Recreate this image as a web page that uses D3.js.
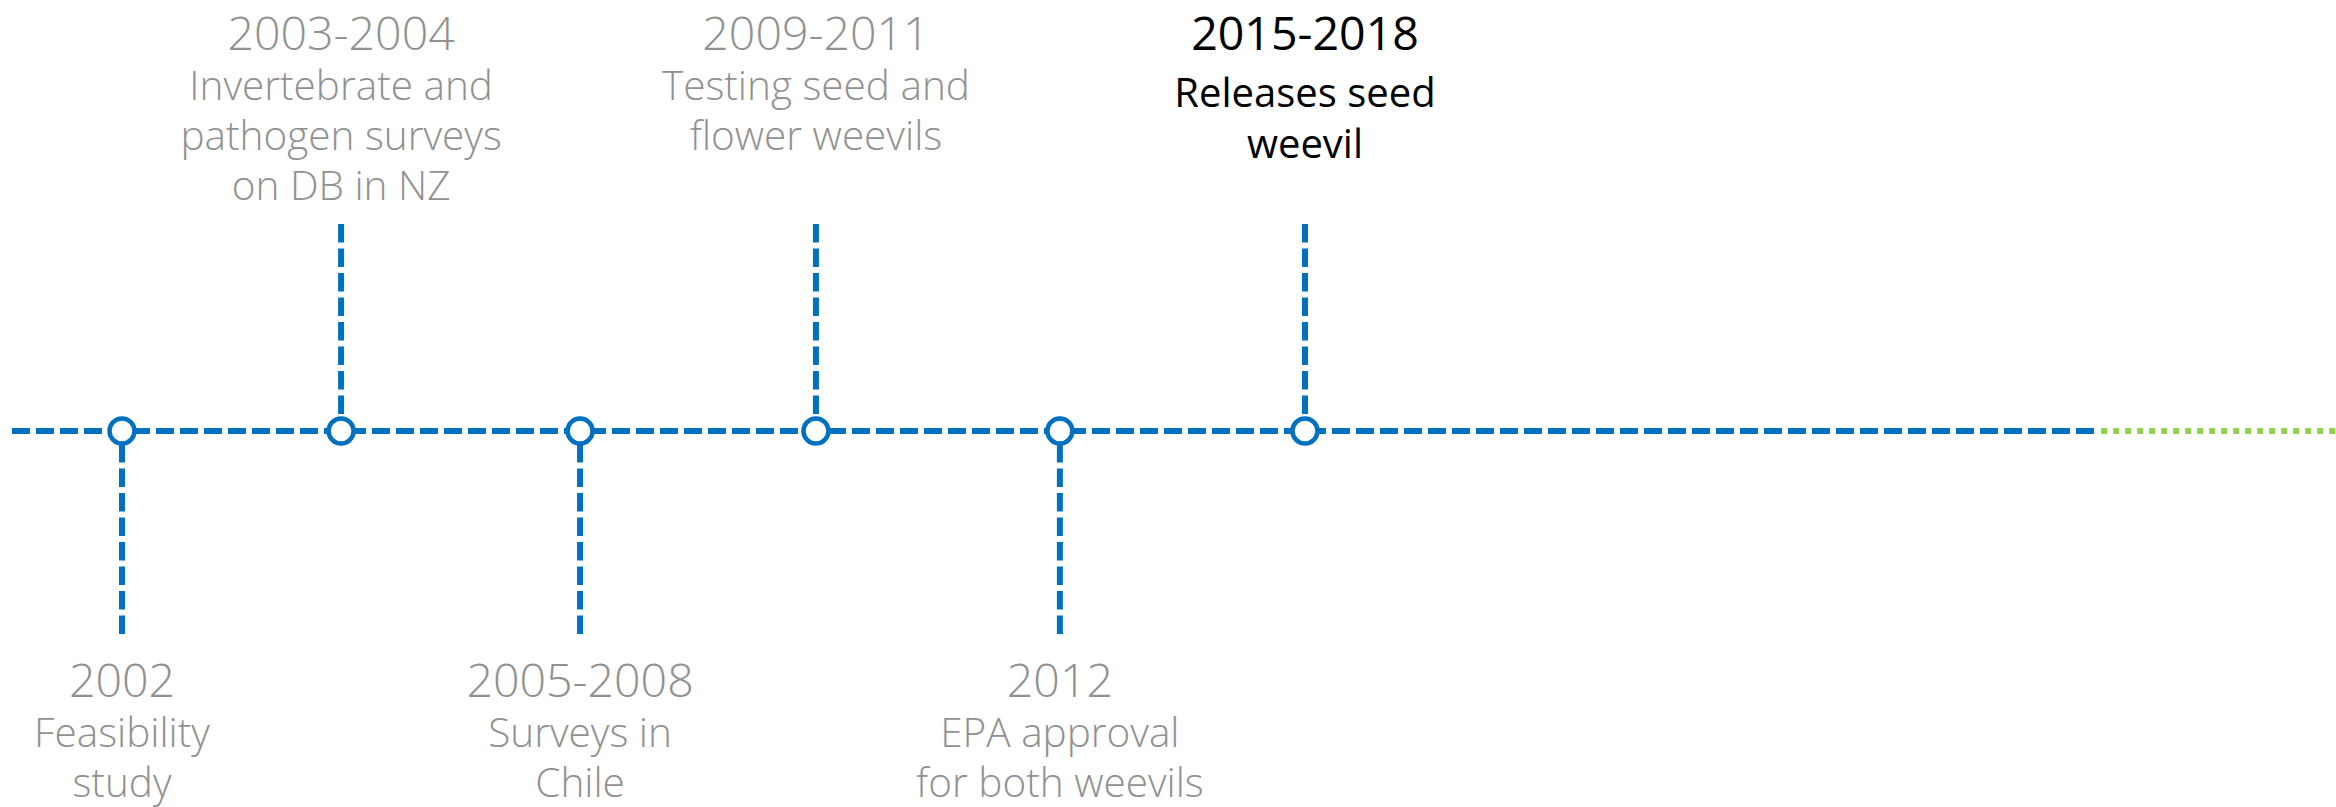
<!DOCTYPE html>
<html>
<head>
<meta charset="utf-8">
<script src="https://cdn.jsdelivr.net/npm/d3@7"></script>
<style>
  body { margin: 0; background: #fff; }
  text { font-family: "Open Sans", "Noto Sans", sans-serif; }
</style>
</head>
<body>
<div id="timeline"></div>
<script>
// events on the timeline
const periods = ["2002", "2003-2004", "2005-2008", "2009-2011", "2012", "2015-2018"];
const descriptions = [
  ["Feasibility", "study"],
  ["Invertebrate and", "pathogen surveys", "on DB in NZ"],
  ["Surveys in", "Chile"],
  ["Testing seed and", "flower weevils"],
  ["EPA approval", "for both weevils"],
  ["Releases seed", "weevil"]
];
const sides = ["below", "above", "below", "above", "below", "above"];
// position of each event along the track (event slots)
const slots = [0, 0.926, 1.936, 2.933, 3.964, 5];
const current = [false, false, false, false, false, true];
// track extent in the same units: past (dashed blue) and future (dotted green)
const pastTrack = [-0.465, 8.335];
const futureTrack = [8.365, 9.4];

const width = 2336, height = 807;
const axisY = 431;
const blue = "#0070c0", green = "#92d050", grey = "#919191";

const events = periods.map((p, i) => ({
  period: p, lines: descriptions[i], side: sides[i], slot: slots[i], current: current[i]
}));

const svg = d3.select("#timeline")
  .append("svg")
    .attr("width", width)
    .attr("height", height);

const x = d3.scaleLinear()
  .domain([0, 5])
  .range([122, 1305]);

// main track
svg.append("line")
  .attr("x1", x(pastTrack[0]))
  .attr("x2", x(pastTrack[1]))
  .attr("y1", axisY).attr("y2", axisY)
  .attr("stroke", blue)
  .attr("stroke-width", 6)
  .attr("stroke-dasharray", "18,6");

svg.append("line")
  .attr("x1", x(futureTrack[0]))
  .attr("x2", x(futureTrack[1]))
  .attr("y1", axisY).attr("y2", axisY)
  .attr("stroke", green)
  .attr("stroke-width", 6)
  .attr("stroke-dasharray", "6,6");

// connectors
svg.selectAll("line.stem")
  .data(events)
  .join("line")
    .attr("class", "stem")
    .attr("x1", d => x(d.slot))
    .attr("x2", d => x(d.slot))
    .attr("y1", d => d.side === "above" ? 224 : 634)
    .attr("y2", d => d.side === "above" ? axisY - 13 : axisY + 13)
    .attr("stroke", blue)
    .attr("stroke-width", 6)
    .attr("stroke-dasharray", "18.5,6");

// markers
svg.selectAll("circle.marker")
  .data(events)
  .join("circle")
    .attr("class", "marker")
    .attr("cx", d => x(d.slot))
    .attr("cy", axisY)
    .attr("r", 12.5)
    .attr("fill", "#fff")
    .attr("stroke", blue)
    .attr("stroke-width", 4.5);

// labels
const labels = svg.selectAll("g.label")
  .data(events)
  .join("g")
    .attr("class", "label")
    .attr("transform", d => `translate(${x(d.slot)},${d.side === "above" ? 50 : 697})`)
    .attr("fill", d => d.current ? "#000" : grey)
    .attr("font-weight", d => d.current ? 400 : 300)
    .attr("text-anchor", "middle");

labels.append("text")
  .attr("font-size", 46.5)
  .text(d => d.period);

labels.each(function(d) {
  const g = d3.select(this);
  const step = d.current ? 51 : 50;
  const first = d.current ? 57 : 50;
  d.lines.forEach((t, i) => {
    g.append("text")
      .attr("y", first + i * step)
      .attr("font-size", d.current ? 40 : 40.5)
      .text(t);
  });
});
</script>
</body>
</html>
